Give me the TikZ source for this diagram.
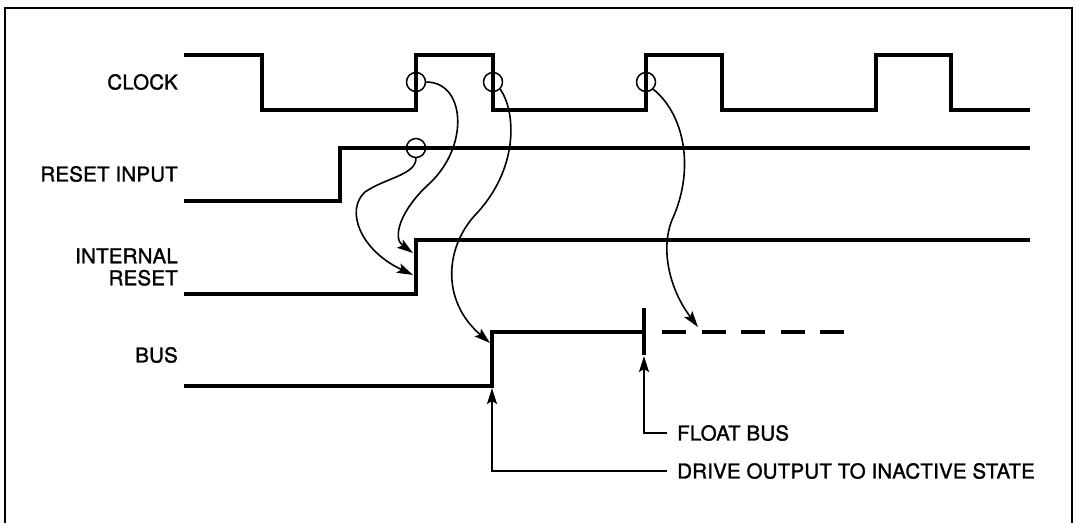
\documentclass[tikz,border=0pt]{standalone}
\usepackage{fontspec}
\setmainfont{TeX Gyre Heros}
\newfontfamily\sigfont{TeX Gyre Heros}[FakeBold=1.4, LetterSpace=1]
\usepackage{tikz}
\usetikzlibrary{positioning, arrows.meta, calc}

\begin{document}
\begin{tikzpicture}[
        x=1pt, y=-1pt,
        sig/.style={line width=3.4pt, line cap=rect},
        frm/.style={line width=2.6pt},
        ring/.style={draw, circle, line width=1.5pt, minimum size=19pt, inner sep=0pt},
        cur/.style={-{Stealth[length=16pt, width=10pt, inset=3pt]}, line width=1.6pt},
        arr/.style={-{Stealth[length=16pt, width=10pt, inset=3pt]}, line width=1.6pt},
        lbl/.style={font=\sigfont\fontsize{20.5}{22}\selectfont, anchor=east, align=right, inner sep=0pt},
        note/.style={font=\sigfont\fontsize{20.5}{22}\selectfont, anchor=west, inner xsep=10pt, inner ysep=0pt},
    ]
    \useasboundingbox (0,0) rectangle (1076,523);

    % ---- FRAME ----
    \draw[frm] (5,523) -- (5,8) -- (1072,8) -- (1072,523);

    % ---- SIGNAL NAMES ----
    \node[lbl] (lbl-clock) at (178,82) {CLOCK};
    \node[lbl] (lbl-reset) at (178,174) {RESET INPUT};
    \node[lbl] (lbl-int) at (178,267) {INTERNAL\\RESET};
    \node[lbl] (lbl-bus) at (178,355) {BUS};

    % ---- WAVEFORMS ----
    \draw[sig] (186,55) -- (262,55) -- (262,110) -- (416,110) -- (416,55) -- (493,55) -- (493,110)
        -- (646,110) -- (646,55) -- (722,55) -- (722,110) -- (876,110) -- (876,55) -- (951,55)
        -- (951,110) -- (1028,110);
    \draw[sig] (186,201) -- (340,201) -- (340,148) -- (1028,148);
    \draw[sig] (186,294) -- (416,294) -- (416,240) -- (1028,240);
    \draw[sig] (186,386) -- (492,386) -- (492,332) -- (644,332);
    \draw[sig] (644,310) -- (644,353);
    \draw[sig, line cap=butt, dash pattern=on 24pt off 15.5pt] (662,332) -- (845,332);

    % ---- EDGE MARKS ----
    \node[ring] (clk-r1) at (416,82) {};
    \node[ring] (clk-f1) at (493,82) {};
    \node[ring] (clk-r2) at (646,82) {};
    \node[ring] (rst-hi) at (416,148) {};

    \coordinate (int-a) at (413,253);
    \coordinate (int-b) at (413,275);
    \coordinate (bus-a) at (490,343);
    \coordinate (bus-b) at (698,327);
    \coordinate (bus-foot) at (492,388);
    \coordinate (float-foot) at (644,356);

    % ---- CAUSE ARROWS ----
    \draw[cur] (clk-r1.east) .. controls (465,82) and (470,145) .. (430,183)
        .. controls (400,210) and (392,238) .. (int-a);
    \draw[cur] (rst-hi.south) .. controls (416,175) and (385,178) .. (365,192)
        .. controls (345,210) and (360,250) .. (int-b);
    \draw[cur] (clk-f1.south east) .. controls (515,110) and (520,165) .. (478,212)
        .. controls (445,245) and (440,300) .. (bus-a);
    \draw[cur] (clk-r2.south east) .. controls (685,115) and (695,170) .. (672,220)
        .. controls (660,250) and (670,290) .. (bus-b);

    % ---- NOTES ----
    \node[note] (float-note) at (667,433) {FLOAT BUS};
    \node[note] (drive-note) at (667,471) {DRIVE OUTPUT TO INACTIVE STATE};
    \draw[arr] (float-note.west) -| (float-foot);
    \draw[arr] (drive-note.west) -| (bus-foot);

\end{tikzpicture}
\end{document}
